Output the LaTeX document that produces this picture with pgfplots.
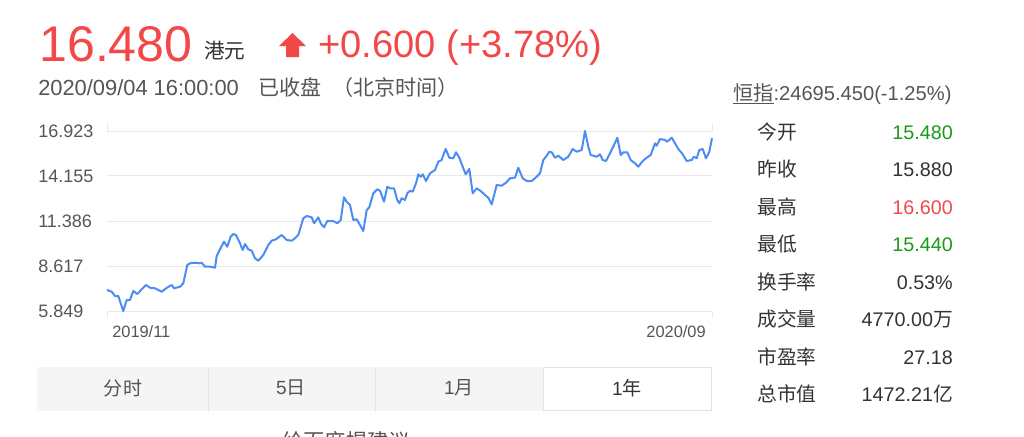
\documentclass[border=0pt]{standalone}
\usepackage{pgfplots}
\pgfplotsset{compat=1.18}
\usepackage{fontspec}
\setmainfont{Liberation Sans}
\newfontfamily\cjk{Noto Sans CJK SC}
\definecolor{upred}{HTML}{F24848}
\definecolor{downgreen}{HTML}{1A9A1A}
\definecolor{linblue}{HTML}{4D8BF5}
\definecolor{gridgray}{HTML}{E8E8E8}
\definecolor{txtgray}{HTML}{555555}
\definecolor{txtdark}{HTML}{333333}
\definecolor{tabfill}{HTML}{F5F5F5}
\definecolor{tabline}{HTML}{E3E3E3}
\newcommand{\fs}[1]{\fontsize{#1}{#1}\selectfont}

% one-year close prices (x: trading position along the chart, y: HKD)
\pgfplotstableread{
x v
0 7.141
4.7 7.036
8 6.772
11.3 6.772
13.7 6.323
16.3 5.849
19.7 6.526
23 6.526
26.3 7.079
30.3 6.895
34.7 7.184
39 7.449
43 7.282
48 7.246
51.3 7.141
54.7 7.036
59 7.246
64.7 7.449
67 7.246
73 7.344
76.3 7.553
80.3 8.679
83 8.784
88 8.820
92.3 8.784
94.7 8.820
98 8.574
103 8.574
108 8.513
109.7 9.233
113 9.645
117 10.112
120.3 9.805
123.7 10.420
126.3 10.586
129 10.525
132.3 10.112
135.7 9.602
138 9.971
141.3 9.645
144.7 9.559
148 9.091
151.3 8.944
156.3 9.294
161.3 9.909
164.7 10.174
169 10.260
174.7 10.525
179.7 10.217
184.7 10.174
188 10.322
191.3 10.525
196.3 11.552
199.7 11.694
204.7 11.614
207 11.244
211.3 11.614
213.7 11.244
217 10.998
220.3 11.386
226.3 11.386
230.3 11.244
233.7 11.448
237 12.844
239.7 12.573
243 12.370
246.3 11.448
249.7 11.491
253 11.140
256.3 10.771
259.7 12.063
262.3 12.229
266.3 13.090
270.3 13.336
273 13.250
277 12.573
280.3 13.496
283 13.398
287 13.398
290.3 12.678
292.3 12.475
294.7 12.783
298 12.678
300.3 13.090
303 13.250
305.7 13.189
309 13.705
311.3 14.259
313.7 14.111
315.7 14.259
319 13.847
323 14.321
328 14.524
331.3 15.034
334.7 15.139
336.3 15.446
338.7 15.816
342.3 15.280
346.3 15.243
349 15.612
352.3 15.280
356.3 14.628
358.7 14.259
362.3 14.585
365.7 13.090
369.7 13.398
373.7 13.232
378 12.986
381.3 12.819
384.7 12.413
389.7 13.601
394.7 13.558
399 13.742
403 14.013
408 14.050
411.3 14.665
415.7 14.013
419.7 13.847
424.7 13.847
429.7 14.111
433 14.321
436.3 15.139
439.7 15.403
442.3 15.649
444.7 15.612
448 15.280
451.3 15.403
456.3 15.139
461.3 15.342
465.7 15.816
469.7 15.649
474.7 15.754
478 16.923
481.3 15.957
483.7 15.446
489.7 15.342
493 15.489
495.7 15.139
499 15.077
503 15.551
507 16.062
510.3 16.511
513.7 15.446
516.3 15.612
520.3 15.612
523.7 15.139
528 14.936
531.3 14.727
535.7 15.077
539.7 15.280
543.7 15.446
548 16.166
549.7 16.019
553 16.431
558 16.369
560.3 16.265
564.7 16.511
568 16.166
571.3 15.816
575.7 15.489
579.7 15.077
584.7 15.139
587 15.342
589.7 15.243
592.3 15.754
595.7 15.816
599 15.243
602.3 15.649
605 16.480
}\closes

\begin{document}
\begin{tikzpicture}
\path[use as bounding box] (0,0) rectangle (768pt,-327pt);

\begin{axis}[
  at={(80.25pt,-233.25pt)}, anchor=south west,
  width=453.75pt, height=135pt, scale only axis,
  xmin=0, xmax=605, ymin=5.849, ymax=16.923,
  clip=false,
  axis line style={draw=none},
  ytick={5.849,8.617,11.386,14.155,16.923},
  yticklabels={5.849,8.617,11.386,14.155,16.923},
  ymajorgrids,
  grid style={draw=gridgray, line width=0.75pt},
  ytick style={draw=none},
  yticklabel style={anchor=west, xshift=-46.5pt, inner sep=0pt, font=\fs{13.5pt}, text=txtgray},
  xtick={0,605}, xticklabels={},
  xtick style={draw=gridgray, line width=0.75pt},
  tick align=outside, major tick length=5.25pt,
  /pgf/number format/assume math mode=true,
]
\addplot[linblue, line width=1.5pt, line join=round, no markers] table[x=x, y=v] {\closes};
\end{axis}

\begin{scope}[x=0.75pt, y=-0.75pt]
% price header
\node[anchor=base west, inner sep=0pt, text=upred] at (39,61) {\fs{37.6pt}16.480};
\node[anchor=base west, inner sep=0pt, text=txtdark] at (204,58) {\fs{15.5pt}\cjk 港元};
\fill[upred] (279,46) -- (292.5,33) -- (306,46) -- (299,46) -- (299,57) -- (286,57) -- (286,46) -- cycle;
\node[anchor=base west, inner sep=0pt, text=upred] at (318,57) {\fs{28.6pt}+0.600 (+3.78\%)};

\node[anchor=base west, inner sep=0pt, text=txtgray] at (38,95) {\fs{16.4pt}2020/09/04 16:00:00};
\node[anchor=base west, inner sep=0pt, text=txtgray] at (258,95) {\fs{15.8pt}\cjk 已收盘};
\node[anchor=base west, inner sep=0pt, text=txtgray] at (332,95) {\fs{15.8pt}\cjk （北京时间）};

% index line
\node[anchor=base west, inner sep=0pt, text=txtgray] at (733,100) {\fs{15.1pt}\underline{\cjk 恒指}:24695.450(-1.25\%)};

% quote table
\foreach \lab/\val/\col/\yy in {今开/15.480/downgreen/136, 昨收/15.880/txtdark/173, 最高/16.600/upred/211, 最低/15.440/downgreen/248, 换手率/0.53\%/txtdark/286, 成交量/4770.00{\cjk 万}/txtdark/323, 市盈率/27.18/txtdark/361, 总市值/1472.21{\cjk 亿}/txtdark/398}{
  \node[anchor=mid west, inner sep=0pt, text=txtdark] at (757,\yy) {\fs{14.8pt}\cjk \lab};
  \node[anchor=mid east, inner sep=0pt, text=\col] at (953,\yy) {\fs{14.8pt}\val};
}

% date labels under the chart
\node[anchor=base west, inner sep=0pt, text=txtgray] at (112,337) {\fs{12.3pt}2019/11};
\node[anchor=base east, inner sep=0pt, text=txtgray] at (706,337) {\fs{12.3pt}2020/09};

% period tabs
\fill[tabfill] (37,367) rectangle (543,411);
\draw[tabline, line width=0.75pt] (208,367) -- (208,411);
\draw[tabline, line width=0.75pt] (375,367) -- (375,411);
\draw[fill=white, draw=tabline, line width=1pt] (543.5,367.5) rectangle (711.5,410.5);
\node[text=txtgray, inner sep=0pt] at (123,388) {\fs{14.3pt}\cjk 分时};
\node[text=txtgray, inner sep=0pt] at (291,388) {\fs{14.3pt}5{\cjk 日}};
\node[text=txtgray, inner sep=0pt] at (459,388) {\fs{14.3pt}1{\cjk 月}};
\node[text=txtdark, inner sep=0pt] at (627,388) {\fs{14.3pt}1{\cjk 年}};

% footer link, cut by the page edge
\begin{scope}
\clip (0,0) rectangle (1024,436);
\node[anchor=north west, inner sep=0pt, text=txtgray] at (282,431) {\fs{16pt}\cjk 给百度提建议};
\end{scope}
\end{scope}
\end{tikzpicture}
\end{document}
